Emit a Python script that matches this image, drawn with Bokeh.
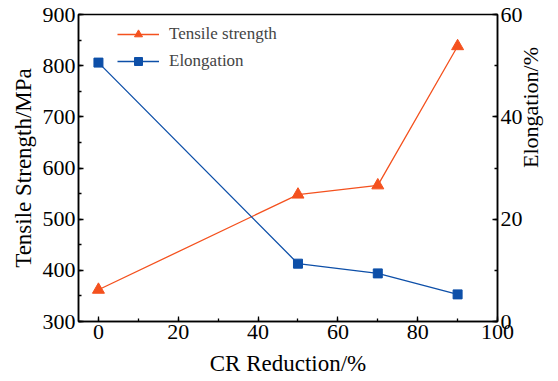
import math
from bokeh.plotting import figure
from bokeh.models import Range1d, LinearAxis, Legend, LegendItem, SingleIntervalTicker
from bokeh.embed import file_html
from bokeh.resources import INLINE

reduction = [0, 50, 70, 90]
tensile_strength = [362, 548, 566, 838]
elongation = [50.6, 11.3, 9.4, 5.3]

RED = "#F4511E"
BLUE = "#0D4FA8"
FONT = "Liberation Serif"

p = figure(width=558, height=381, output_backend="svg", toolbar_location=None,
           x_range=Range1d(-5, 100), y_range=Range1d(300, 900),
           min_border_left=78, min_border_right=61, min_border_top=14, min_border_bottom=60)
p.extra_y_ranges = {"el": Range1d(0, 60)}
p.grid.visible = False
p.outline_line_color = "black"
p.outline_line_width = 1.5
p.background_fill_color = "white"
p.border_fill_color = "white"

r1 = p.line(reduction, tensile_strength, line_color=RED, line_width=1.3)
s1 = p.scatter(reduction, tensile_strength, marker="triangle", size=12, fill_color=RED, line_color=RED)
r2 = p.line(reduction, elongation, line_color=BLUE, line_width=1.3, y_range_name="el")
s2 = p.scatter(reduction, elongation, marker="square", size=9, fill_color=BLUE, line_color=BLUE, y_range_name="el")

right_axis = LinearAxis(y_range_name="el", axis_label="Elongation/%")
p.add_layout(right_axis, "right")

p.xaxis.axis_label = "CR Reduction/%"
p.yaxis[0].axis_label = "Tensile Strength/MPa"

p.xaxis.ticker = SingleIntervalTicker(interval=20, num_minor_ticks=2)
p.yaxis[0].ticker = SingleIntervalTicker(interval=100, num_minor_ticks=2)
right_axis.ticker = SingleIntervalTicker(interval=20, num_minor_ticks=2)

for ax in p.axis:
    ax.axis_line_color = "black"
    ax.axis_line_width = 1.5
    ax.major_tick_in = 5
    ax.major_tick_out = 0
    ax.minor_tick_in = 3
    ax.minor_tick_out = 0
    ax.major_tick_line_color = "black"
    ax.minor_tick_line_color = "black"
    ax.major_tick_line_width = 1.3
    ax.minor_tick_line_width = 1.3
    ax.major_label_text_font = FONT
    ax.major_label_text_font_size = "22px"
    ax.major_label_text_color = "black"
    ax.axis_label_text_font = FONT
    ax.axis_label_text_font_size = "23px"
    ax.axis_label_text_font_style = "normal"
    ax.axis_label_text_color = "black"
    ax.major_label_standoff = 3
    ax.axis_label_standoff = 4

p.xaxis.axis_label_standoff = 9
right_axis.axis_label_orientation = math.pi / 2
right_axis.axis_label_standoff = 5
right_axis.axis_label_text_font_size = "22px"

legend = Legend(items=[LegendItem(label="Tensile strength", renderers=[r1, s1]),
                       LegendItem(label="Elongation", renderers=[r2, s2])],
                location=(39, 250))
legend.border_line_color = None
legend.background_fill_alpha = 0
legend.label_text_font = FONT
legend.label_text_font_size = "17px"
legend.glyph_width = 42
legend.label_standoff = 10
legend.spacing = 7
p.add_layout(legend)

open("out.html", "w").write(file_html(p, INLINE))
